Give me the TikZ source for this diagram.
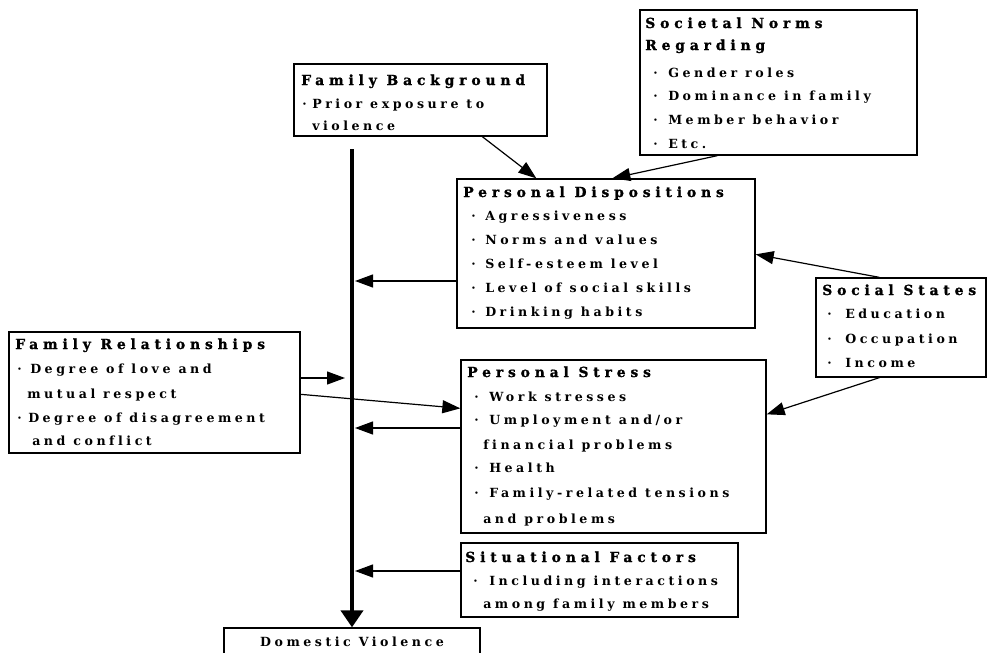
\documentclass[tikz,border=0pt]{standalone}
\usepackage{fontspec}
\setmainfont{DejaVu Serif}
\newfontfamily\bodyfont[LetterSpace=28,Ligatures={NoCommon}]{DejaVu Serif}
\newfontfamily\hdfont[LetterSpace=35,Ligatures={NoCommon},BoldFeatures={FakeBold=1.2}]{DejaVu Serif}
\usetikzlibrary{arrows.meta,fit,calc}
\newdimen\px \px=0.75pt
\newcommand\bul[1]{\makebox[#1][l]{·}}
\tikzset{
  box/.style={draw, line width=1pt, inner sep=0pt},
  txt/.style={anchor=base west, inner sep=0pt, font=\bodyfont\bfseries\fontsize{9.45}{11}\selectfont},
  hd/.style={anchor=base west, inner sep=0pt, font=\hdfont\bfseries\fontsize{10.4}{12}\selectfont},
  arr/.style={line width=0.9pt, -{Triangle[length=13.5pt,width=9.75pt]}},
  mainline/.style={line width=3pt, -{Triangle[length=12.75pt,width=16.5pt]}},
}
\begin{document}
\begin{tikzpicture}[x=0.75pt,y=-0.75pt]
\useasboundingbox (0,0) rectangle (992,653);
% boxes
\node[box, fit={(294,64)(547,136)}] (fb) {};
\node[box, fit={(640,10)(917,155)}] (sn) {};
\node[box, fit={(457,179)(755,328)}] (pd) {};
\node[box, fit={(816,278)(986,377)}] (ss) {};
\node[box, fit={(9,332)(300,453)}] (fr) {};
\node[box, fit={(461,360)(766,533)}] (ps) {};
\node[box, fit={(461,543)(738,617)}] (sf) {};
\node[box, fit={(224,628)(480,662)}] (dv) {};
% texts
\node[hd] (fbh) at (301,85) {Family Background};
\node[txt] (fb1) at (302,108) {\bul{10\px}Prior exposure to};
\node[txt] (fb2) at (312,130) {violence};

\node[hd] (snh1) at (645,28) {Societal Norms};
\node[hd] (snh2) at (645,50) {Regarding};
\node[txt] (sn1) at (653,77) {\bul{15\px}Gender roles};
\node[txt] (sn2) at (653,100) {\bul{15\px}Dominance in family};
\node[txt] (sn3) at (653,124) {\bul{15\px}Member behavior};
\node[txt] (sn4) at (653,148) {\bul{15\px}Etc.};

\node[hd] (pdh) at (463,197) {Personal Dispositions};
\node[txt] (pd1) at (471,220) {\bul{14\px}Agressiveness};
\node[txt] (pd2) at (471,244) {\bul{14\px}Norms and values};
\node[txt] (pd3) at (471,268) {\bul{14\px}Self-esteem level};
\node[txt] (pd4) at (471,292) {\bul{14\px}Level of social skills};
\node[txt] (pd5) at (471,316) {\bul{14\px}Drinking habits};

\node[hd] (ssh) at (822,295) {Social States};
\node[txt] (ss1) at (827,318) {\bul{18\px}Education};
\node[txt] (ss2) at (827,343) {\bul{18\px}Occupation};
\node[txt] (ss3) at (827,367) {\bul{18\px}Income};

\node[hd] (frh) at (15,349) {Family Relationships};
\node[txt] (fr1) at (17,373) {\bul{13\px}Degree of love and};
\node[txt] (fr2) at (27,398) {mutual respect};
\node[txt] (fr3) at (17,422) {\bul{11\px}Degree of disagreement};
\node[txt] (fr4) at (32,445) {and conflict};

\node[hd] (psh) at (467,377) {Personal Stress};
\node[txt] (ps1) at (474,401) {\bul{15\px}Work stresses};
\node[txt] (ps2) at (474,424) {\bul{15\px}Umployment and/or};
\node[txt] (ps3) at (483,449) {financial problems};
\node[txt] (ps4) at (474,472) {\bul{15\px}Health};
\node[txt] (ps5) at (474,497) {\bul{15\px}Family-related tensions};
\node[txt] (ps6) at (483,523) {and problems};

\node[hd] (sfh) at (465,562) {Situational Factors};
\node[txt] (sf1) at (473,585) {\bul{16\px}Including interactions};
\node[txt] (sf2) at (483,608) {among family members};

\node[txt, anchor=base] (dvt) at (352,646) {Domestic Violence};
% main line
\coordinate (lt) at (352,149);
\draw[mainline] (lt) -- (dv.north);
\coordinate (p1) at (355,281);
\coordinate (p2) at (355,428);
\coordinate (p3) at (355,571);
\coordinate (p4) at (345,378);
% connectors
\draw[arr] (p1 -| pd.west) -- (p1);
\draw[arr] (p2 -| ps.west) -- (p2);
\draw[arr] (p3 -| sf.west) -- (p3);
\draw[arr] (p4 -| fr.east) -- (p4);
\draw[arr] ($(fr.north east)+(0,63)$) -- ($(ps.north west)+(0,49)$);
\draw[arr] ($(fb.south west)+(189,0)$) -- ($(pd.north west)+(80,0)$);
\draw[arr] ($(sn.south west)+(78,0)$) -- ($(pd.north west)+(156,0)$);
\draw[arr] ($(ss.north west)+(64,0)$) -- ($(pd.north east)+(0,76)$);
\draw[arr] ($(ss.south west)+(64,0)$) -- ($(ps.north east)+(0,55)$);
\end{tikzpicture}
\end{document}
